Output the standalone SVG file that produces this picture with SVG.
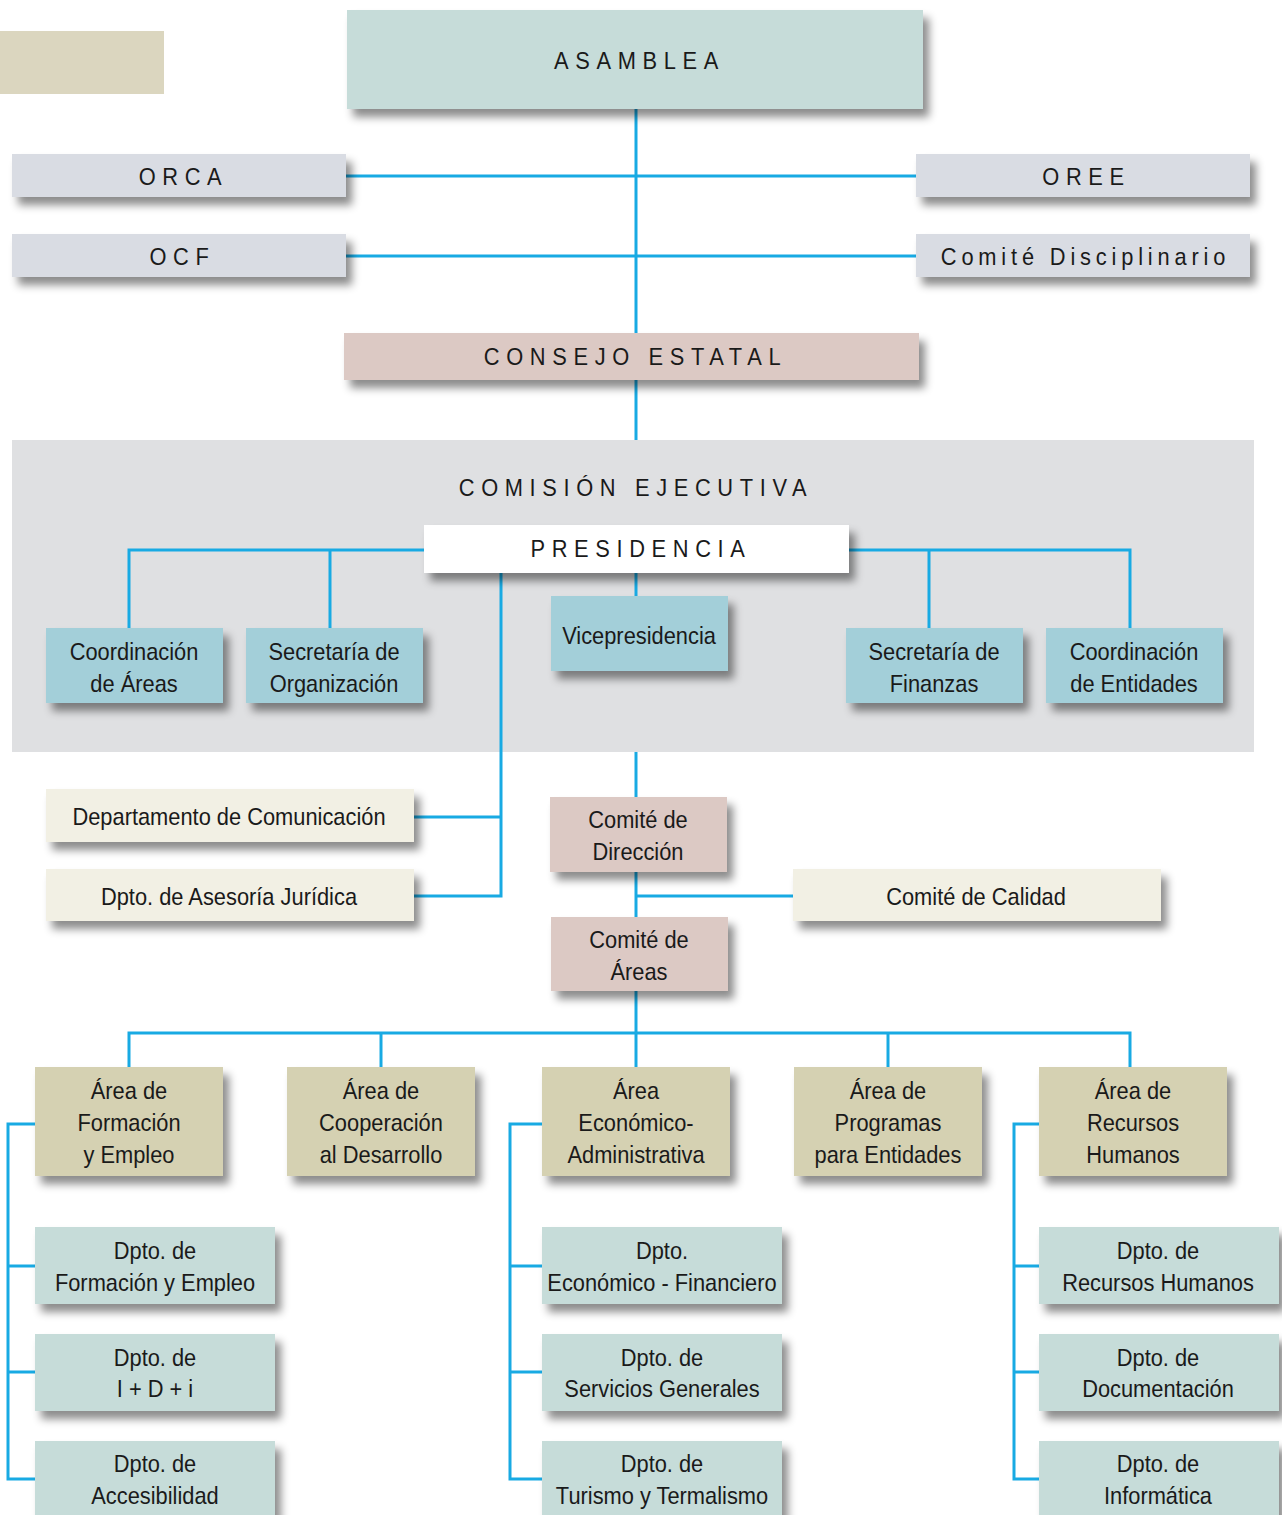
<svg xmlns="http://www.w3.org/2000/svg" width="1282" height="1515" viewBox="0 0 1282 1515">
<style>
.t{font-family:"Liberation Sans",Arial,sans-serif;font-size:24px;fill:#1a1a1a;text-anchor:middle}
.h{font-family:"Liberation Sans",Arial,sans-serif;font-size:24px;fill:#1a1a1a;text-anchor:middle;letter-spacing:7.3px}
.hs{font-family:"Liberation Sans",Arial,sans-serif;font-size:24px;fill:#1a1a1a;text-anchor:middle;letter-spacing:5.3px}
.sh{filter:url(#ds)}
.c{fill:none;stroke:#18aae3;stroke-width:3}
.gray{fill:#d9dce3}
.asm{fill:#c6dcd9}
.rose{fill:#dcc9c4}
.blue{fill:#a3cfd9}
.cream{fill:#f2f0e4}
.tan{fill:#d5d1b2}
.dep{fill:#c6dcd9}
</style>
<defs>
<filter id="ds" x="-10%" y="-20%" width="130%" height="160%">
<feDropShadow dx="6" dy="8" stdDeviation="4" flood-color="#000" flood-opacity="0.45"/>
</filter>
</defs>
<rect width="1282" height="1515" fill="#ffffff"/>
<g id="tag"><rect x="0" y="31" width="164" height="63" fill="#dbd6bf"/></g>
<g id="comision-ejecutiva">
<rect x="12" y="440" width="1242" height="312" fill="#dfe0e2"/>
<text class="h" transform="translate(636 0) scale(0.91 1)" y="496">COMISIÓN EJECUTIVA</text>
</g>
<g id="connectors">
<path class="c" d="M636 109 V440"/>
<path class="c" d="M346 176 H916"/>
<path class="c" d="M346 256 H916"/>
<path class="c" d="M129 628 V550 H424"/>
<path class="c" d="M330 550 V628"/>
<path class="c" d="M849 550 H1130 V628"/>
<path class="c" d="M929 550 V628"/>
<path class="c" d="M636 573 V596"/>
<path class="c" d="M501 573 V896 H414"/>
<path class="c" d="M414 817 H501"/>
<path class="c" d="M636 752 V797"/>
<path class="c" d="M636 872 V917"/>
<path class="c" d="M636 896 H793"/>
<path class="c" d="M636 991 V1067"/>
<path class="c" d="M129 1067 V1033 H1130 V1067"/>
<path class="c" d="M381 1033 V1067"/>
<path class="c" d="M888 1033 V1067"/>
<path class="c" d="M35 1124 H8 V1479 H35 M8 1266 H35 M8 1372 H35"/>
<path class="c" d="M542 1124 H510 V1479 H542 M510 1266 H542 M510 1372 H542"/>
<path class="c" d="M1039 1124 H1014 V1479 H1039 M1014 1266 H1039 M1014 1372 H1039"/>
</g>
<g id="asamblea"><rect class="asm sh" x="347" y="10" width="576" height="99"/>
<text class="h" transform="translate(639.5 0) scale(0.91 1)" y="69">ASAMBLEA</text></g>
<g id="orca"><rect class="gray sh" x="12" y="154" width="334" height="43"/>
<text class="h" transform="translate(183.5 0) scale(0.91 1)" y="185">ORCA</text></g>
<g id="ocf"><rect class="gray sh" x="12" y="234" width="334" height="43"/>
<text class="h" transform="translate(182.5 0) scale(0.91 1)" y="265">OCF</text></g>
<g id="oree"><rect class="gray sh" x="916" y="154" width="334" height="43"/>
<text class="h" transform="translate(1086.5 0) scale(0.91 1)" y="185">OREE</text></g>
<g id="comite-disciplinario"><rect class="gray sh" x="916" y="234" width="334" height="43"/>
<text class="hs" transform="translate(1085.5 0) scale(0.91 1)" y="265">Comité Disciplinario</text></g>
<g id="consejo-estatal"><rect class="rose sh" x="344" y="333" width="575" height="47"/>
<text class="h" transform="translate(635.5 0) scale(0.91 1)" y="365">CONSEJO ESTATAL</text></g>
<g id="presidencia"><rect class="sh" fill="#ffffff" x="424" y="525" width="425" height="48"/>
<text class="h" transform="translate(641 0) scale(0.91 1)" y="557">PRESIDENCIA</text></g>
<g id="coordinacion-areas"><rect class="blue sh" x="46" y="628" width="177" height="75"/>
<text class="t" transform="translate(134 0) scale(0.91 1)"><tspan x="0" y="660">Coordinación</tspan><tspan x="0" y="692">de Áreas</tspan></text></g>
<g id="secretaria-organizacion"><rect class="blue sh" x="246" y="628" width="177" height="75"/>
<text class="t" transform="translate(334 0) scale(0.91 1)"><tspan x="0" y="660">Secretaría de</tspan><tspan x="0" y="692">Organización</tspan></text></g>
<g id="vicepresidencia"><rect class="blue sh" x="551" y="596" width="177" height="75"/>
<text class="t" transform="translate(639 0) scale(0.91 1)" y="644">Vicepresidencia</text></g>
<g id="secretaria-finanzas"><rect class="blue sh" x="846" y="628" width="177" height="75"/>
<text class="t" transform="translate(934 0) scale(0.91 1)"><tspan x="0" y="660">Secretaría de</tspan><tspan x="0" y="692">Finanzas</tspan></text></g>
<g id="coordinacion-entidades"><rect class="blue sh" x="1046" y="628" width="177" height="75"/>
<text class="t" transform="translate(1134 0) scale(0.91 1)"><tspan x="0" y="660">Coordinación</tspan><tspan x="0" y="692">de Entidades</tspan></text></g>
<g id="dpto-comunicacion"><rect class="cream sh" x="46" y="789" width="368" height="53"/>
<text class="t" transform="translate(229 0) scale(0.91 1)" y="825">Departamento de Comunicación</text></g>
<g id="dpto-juridica"><rect class="cream sh" x="46" y="869" width="368" height="52"/>
<text class="t" transform="translate(229 0) scale(0.91 1)" y="905">Dpto. de Asesoría Jurídica</text></g>
<g id="comite-direccion"><rect class="rose sh" x="550" y="797" width="177" height="75"/>
<text class="t" transform="translate(638 0) scale(0.91 1)"><tspan x="0" y="828">Comité de</tspan><tspan x="0" y="860">Dirección</tspan></text></g>
<g id="comite-calidad"><rect class="cream sh" x="793" y="869" width="368" height="52"/>
<text class="t" transform="translate(976 0) scale(0.91 1)" y="905">Comité de Calidad</text></g>
<g id="comite-areas"><rect class="rose sh" x="551" y="917" width="177" height="74"/>
<text class="t" transform="translate(639 0) scale(0.91 1)"><tspan x="0" y="948">Comité de</tspan><tspan x="0" y="980">Áreas</tspan></text></g>
<g id="area-formacion"><rect class="tan sh" x="35" y="1067" width="188" height="109"/>
<text class="t" transform="translate(129 0) scale(0.91 1)"><tspan x="0" y="1099">Área de</tspan><tspan x="0" y="1131">Formación</tspan><tspan x="0" y="1163">y Empleo</tspan></text></g>
<g id="area-cooperacion"><rect class="tan sh" x="287" y="1067" width="188" height="109"/>
<text class="t" transform="translate(381 0) scale(0.91 1)"><tspan x="0" y="1099">Área de</tspan><tspan x="0" y="1131">Cooperación</tspan><tspan x="0" y="1163">al Desarrollo</tspan></text></g>
<g id="area-economico"><rect class="tan sh" x="542" y="1067" width="188" height="109"/>
<text class="t" transform="translate(636 0) scale(0.91 1)"><tspan x="0" y="1099">Área</tspan><tspan x="0" y="1131">Económico-</tspan><tspan x="0" y="1163">Administrativa</tspan></text></g>
<g id="area-programas"><rect class="tan sh" x="794" y="1067" width="188" height="109"/>
<text class="t" transform="translate(888 0) scale(0.91 1)"><tspan x="0" y="1099">Área de</tspan><tspan x="0" y="1131">Programas</tspan><tspan x="0" y="1163">para Entidades</tspan></text></g>
<g id="area-rrhh"><rect class="tan sh" x="1039" y="1067" width="188" height="109"/>
<text class="t" transform="translate(1133 0) scale(0.91 1)"><tspan x="0" y="1099">Área de</tspan><tspan x="0" y="1131">Recursos</tspan><tspan x="0" y="1163">Humanos</tspan></text></g>
<g id="dpto-formacion"><rect class="dep sh" x="35" y="1227" width="240" height="77"/>
<text class="t" transform="translate(155 0) scale(0.91 1)"><tspan x="0" y="1259">Dpto. de</tspan><tspan x="0" y="1291">Formación y Empleo</tspan></text></g>
<g id="dpto-idi"><rect class="dep sh" x="35" y="1334" width="240" height="77"/>
<text class="t" transform="translate(155 0) scale(0.91 1)"><tspan x="0" y="1366">Dpto. de</tspan><tspan x="0" y="1397">I + D + i</tspan></text></g>
<g id="dpto-accesibilidad"><rect class="dep sh" x="35" y="1441" width="240" height="80"/>
<text class="t" transform="translate(155 0) scale(0.91 1)"><tspan x="0" y="1472">Dpto. de</tspan><tspan x="0" y="1504">Accesibilidad</tspan></text></g>
<g id="dpto-economico"><rect class="dep sh" x="542" y="1227" width="240" height="77"/>
<text class="t" transform="translate(662 0) scale(0.91 1)"><tspan x="0" y="1259">Dpto.</tspan><tspan x="0" y="1291">Económico - Financiero</tspan></text></g>
<g id="dpto-servicios"><rect class="dep sh" x="542" y="1334" width="240" height="77"/>
<text class="t" transform="translate(662 0) scale(0.91 1)"><tspan x="0" y="1366">Dpto. de</tspan><tspan x="0" y="1397">Servicios Generales</tspan></text></g>
<g id="dpto-turismo"><rect class="dep sh" x="542" y="1441" width="240" height="80"/>
<text class="t" transform="translate(662 0) scale(0.91 1)"><tspan x="0" y="1472">Dpto. de</tspan><tspan x="0" y="1504">Turismo y Termalismo</tspan></text></g>
<g id="dpto-rrhh"><rect class="dep sh" x="1039" y="1227" width="240" height="77"/>
<text class="t" transform="translate(1158 0) scale(0.91 1)"><tspan x="0" y="1259">Dpto. de</tspan><tspan x="0" y="1291">Recursos Humanos</tspan></text></g>
<g id="dpto-documentacion"><rect class="dep sh" x="1039" y="1334" width="240" height="77"/>
<text class="t" transform="translate(1158 0) scale(0.91 1)"><tspan x="0" y="1366">Dpto. de</tspan><tspan x="0" y="1397">Documentación</tspan></text></g>
<g id="dpto-informatica"><rect class="dep sh" x="1039" y="1441" width="240" height="80"/>
<text class="t" transform="translate(1158 0) scale(0.91 1)"><tspan x="0" y="1472">Dpto. de</tspan><tspan x="0" y="1504">Informática</tspan></text></g>
</svg>
